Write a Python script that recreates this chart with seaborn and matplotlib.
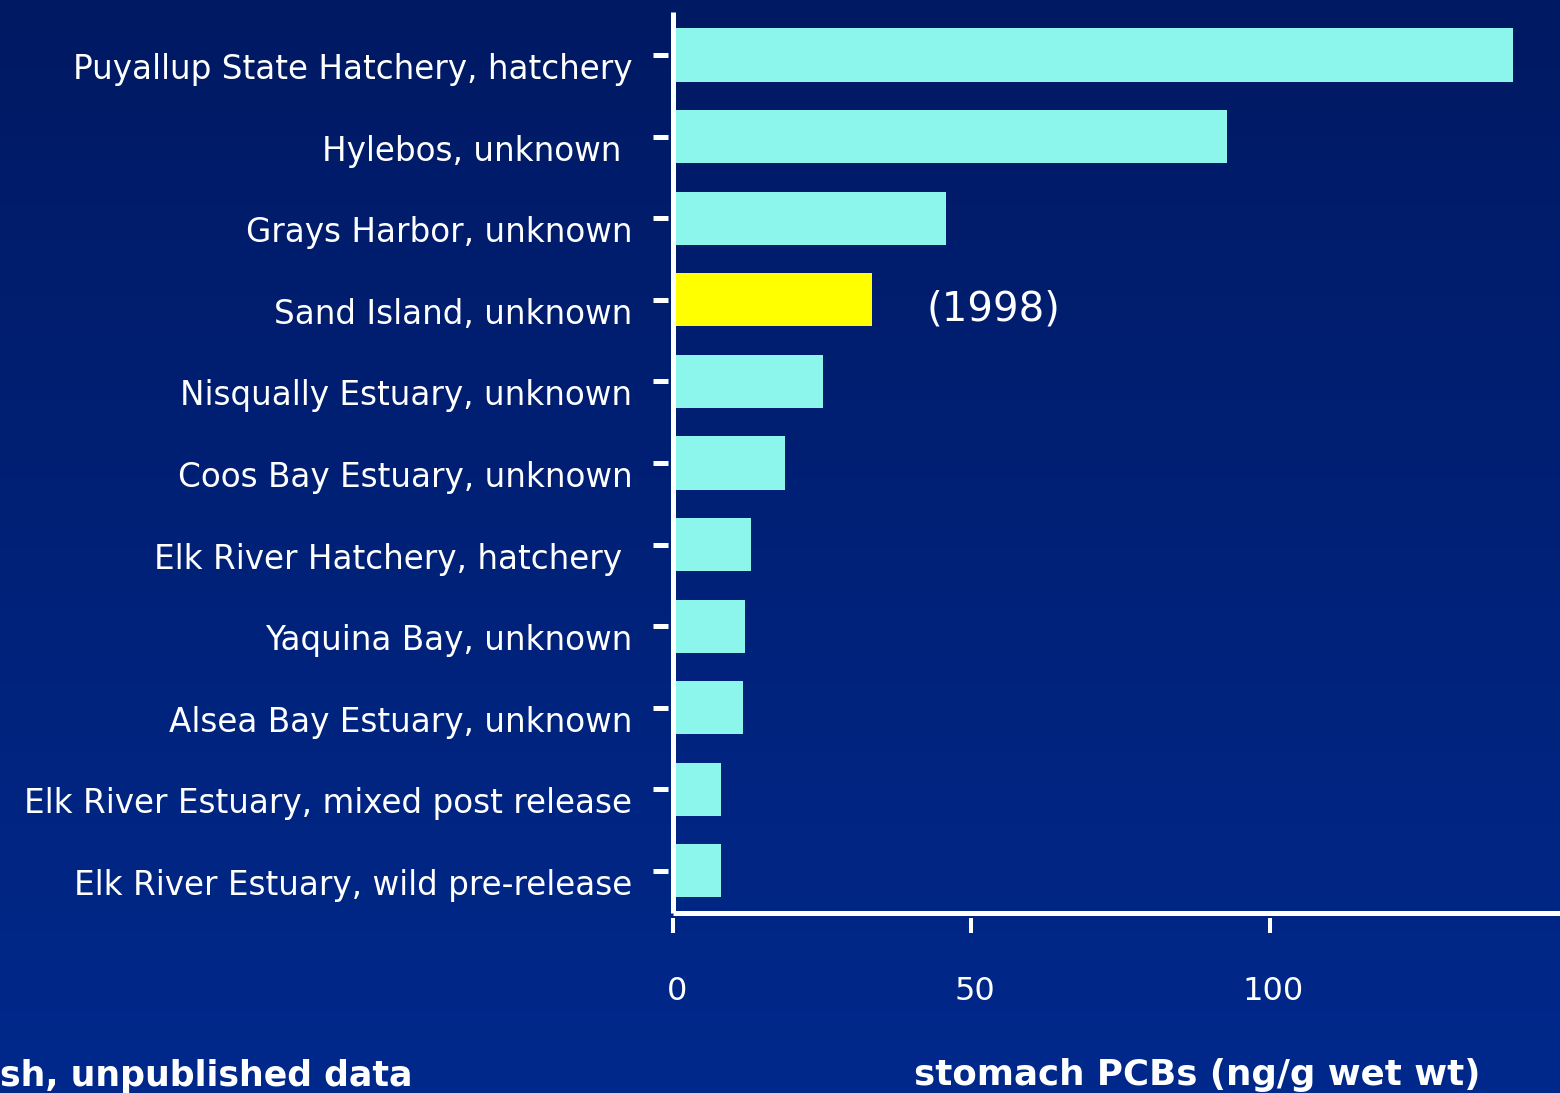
import numpy as np
import matplotlib
matplotlib.use("Agg")
import matplotlib.pyplot as plt
import matplotlib.transforms as mtransforms
from matplotlib.colors import LinearSegmentedColormap
import seaborn as sns

# data
sites = ["Puyallup State Hatchery, hatchery", "Hylebos, unknown ", "Grays Harbor, unknown",
         "Sand Island, unknown", "Nisqually Estuary, unknown", "Coos Bay Estuary, unknown",
         "Elk River Hatchery, hatchery ", "Yaquina Bay, unknown", "Alsea Bay Estuary, unknown",
         "Elk River Estuary, mixed post release", "Elk River Estuary, wild pre-release"]
pcbs = [140.8, 92.8, 45.7, 33.3, 25.2, 18.8, 13.1, 12.1, 11.8, 8.1, 8.1]
highlight = "Sand Island, unknown"
xticks = [0, 50, 100]

cyan = "#8cf5ec"
yellow = "#ffff00"
colors = [yellow if s == highlight else cyan for s in sites]

sns.set_style("white")
# the slide font is tracked out wide, DejaVu gets closest to those widths
plt.rcParams["font.family"] = ["DejaVu Sans"]

fig = plt.figure(figsize=(15.6, 10.93), dpi=100)

# gradient background like the slide
bg = fig.add_axes([0, 0, 1, 1], zorder=-10)
cmap = LinearSegmentedColormap.from_list("slide", ["#001963", "#00298c"])
bg.imshow(np.linspace(0, 1, 256).reshape(-1, 1), aspect="auto", cmap=cmap,
          extent=[0, 1, 0, 1], origin="upper")
bg.axis("off")

W, H = 1560, 1093
ax = fig.add_axes([673 / W, 1 - 913 / H, 1 - 673 / W, (913 - 12) / H])
ax.set_facecolor("none")

sns.barplot(x=pcbs, y=sites, hue=sites, palette=colors, legend=False,
            orient="h", width=0.65, saturation=1, linewidth=0, ax=ax)

ax.set_xlim(0, 148.7)
ax.set_ylim(10.515, -0.527)
ax.set_xticks(xticks)
ax.set_xlabel("")
ax.set_ylabel("")

for side in ["top", "right", "left", "bottom"]:
    ax.spines[side].set_visible(False)
ax.spines["left"].set_position(("outward", 3.6))
ax.spines["bottom"].set_position(("outward", 3.6))

# axis lines
ax.plot([0, 0], [0, 1.0], transform=ax.transAxes, color="white", lw=3.6,
        clip_on=False, solid_capstyle="butt")
ax.plot([0, 1], [0, 0], transform=ax.transAxes, color="white", lw=3.6,
        clip_on=False, solid_capstyle="butt")

ax.tick_params(axis="y", left=True, colors="white", length=10.8, width=3.6,
               pad=15, labelsize=23.5)
ax.tick_params(axis="x", bottom=True, colors="white", length=10.8, width=2.9,
               pad=31, labelsize=23)

# labels sit a bit lower than the bars
shift = mtransforms.ScaledTranslation(0, -11 / 100, fig.dpi_scale_trans)
for lab in ax.get_yticklabels():
    lab.set_transform(lab.get_transform() + shift)
xshift = mtransforms.ScaledTranslation(4 / 100, 0, fig.dpi_scale_trans)
for lab in ax.get_xticklabels():
    lab.set_transform(lab.get_transform() + xshift)

ax.text(42.5, 3.12, "(1998)", color="white", fontsize=29, va="center", ha="left")

fig.text(0, 1 - 1076 / H, "sh, unpublished data", color="white", fontsize=25,
         fontweight="bold", ha="left", va="center")
fig.text(914 / W, 1 - 1075 / H, "stomach PCBs (ng/g wet wt)", color="white", fontsize=25.7,
         fontweight="bold", ha="left", va="center")

fig.savefig("out.png", dpi=100)
